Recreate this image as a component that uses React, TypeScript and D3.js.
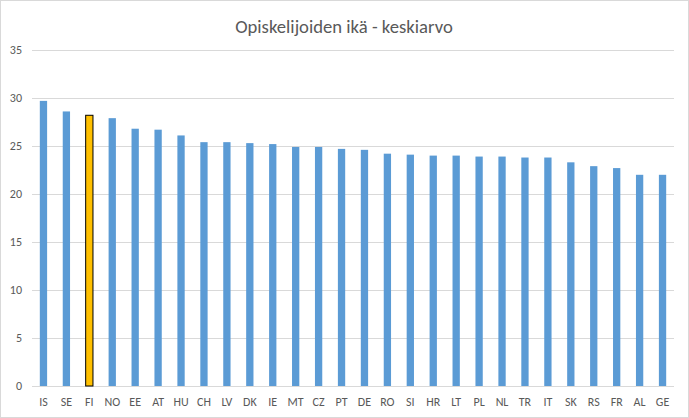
import React from "react";
import * as d3 from "d3";

const categories = ["IS","SE","FI","NO","EE","AT","HU","CH","LV","DK","IE","MT","CZ","PT","DE","RO","SI","HR","LT","PL","NL","TR","IT","SK","RS","FR","AL","GE"];
const values = [29.7,28.6,28.2,27.9,26.8,26.7,26.1,25.4,25.4,25.3,25.2,24.9,24.9,24.7,24.6,24.2,24.1,24.0,24.0,23.9,23.9,23.8,23.8,23.3,22.9,22.7,22.0,22.0];
const highlight = "FI";
const yTicks = [0,5,10,15,20,25,30,35];
const title = "Opiskelijoiden ikä - keskiarvo";

const W = 689, H = 418;
const left = 32, right = 674, top = 50, bottom = 386;
const font = "Carlito, Calibri, 'Liberation Sans', Arial, sans-serif";

export default function App() {
  const x = d3.scaleBand<string>().domain(categories).range([left, right]).paddingInner(0.68).paddingOuter(0.34);
  const y = d3.scaleLinear().domain([0, 35]).range([bottom, top]);
  const bw = 7.3;
  return (
    <svg width={W} height={H} style={{ position: "absolute", left: 0, top: 0 }}>
      <rect x={0.5} y={0.5} width={W - 1} height={H - 1} fill="#fff" stroke="#d9d9d9" />
      <text x={344} y={33} textAnchor="middle" fontFamily={font} fontSize={18.67} fill="#595959">{title}</text>
      {yTicks.map(t => (
        <g key={t}>
          <line x1={left} x2={right} y1={Math.round(y(t)) + 0.5} y2={Math.round(y(t)) + 0.5} stroke="#d9d9d9" strokeWidth={1} />
          <text x={22} y={y(t) + 4} textAnchor="end" fontFamily={font} fontSize={12} fill="#595959">{t}</text>
        </g>
      ))}
      {categories.map((c, i) => {
        const cx = (x(c) as number) + x.bandwidth() / 2;
        const isH = c === highlight;
        return (
          <g key={c}>
            <rect x={cx - bw / 2} y={y(values[i])} width={bw} height={bottom - y(values[i])}
              fill={isH ? "#FFC000" : "#5B9BD5"} stroke={isH ? "#000" : "none"} strokeWidth={isH ? 1 : 0} />
            <text x={cx} y={406} textAnchor="middle" fontFamily={font} fontSize={12} fill="#595959">{c}</text>
          </g>
        );
      })}
    </svg>
  );
}
